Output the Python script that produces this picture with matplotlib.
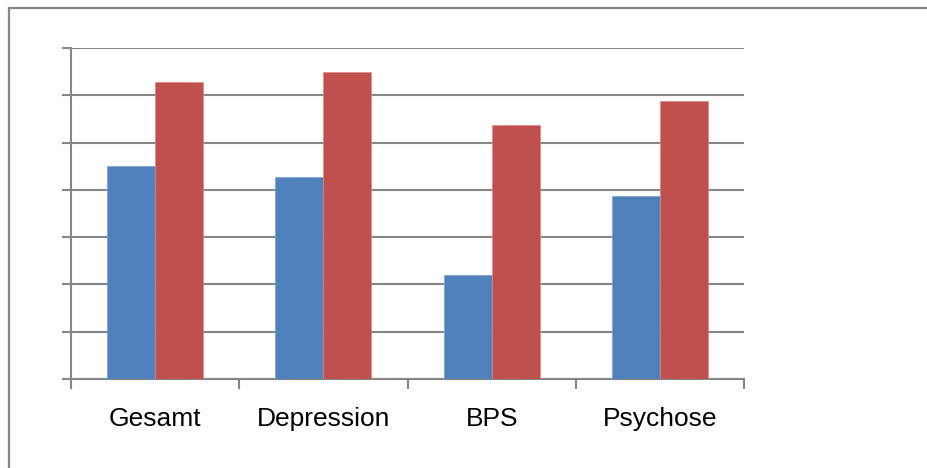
#!/usr/bin/env python3
"""Grouped bar chart: two series over four diagnosis groups, no value labels."""
import matplotlib

matplotlib.use("Agg")
import matplotlib.pyplot as plt
import numpy as np
from matplotlib.lines import Line2D

categories = ["Gesamt", "Depression", "BPS", "Psychose"]
series_a = [4.50, 4.27, 2.20, 3.87]
series_b = [6.28, 6.49, 5.37, 5.88]

BLUE = "#4F81BD"
RED = "#C0504D"
GRAY = "#868686"

fig = plt.figure(figsize=(9.27, 4.68), dpi=100)
ax = fig.add_axes([71 / 927, 1 - 379 / 468, (744 - 71) / 927, (379 - 48) / 468])

# chart frame (only top and left edges fall inside the picture)
fx, fy = 8.5 / 927, 1 - 7.5 / 468
fig.lines.append(Line2D([fx, 1], [fy, fy], transform=fig.transFigure, color=GRAY, linewidth=1.6))
fig.lines.append(Line2D([fx, fx], [0, fy], transform=fig.transFigure, color=GRAY, linewidth=1.6))

x = np.arange(len(categories))
w = 2 / 7  # gap width 150%
ax.bar(x - w / 2, series_a, width=w, color=BLUE, edgecolor="#7A9FCF", linewidth=0.5, zorder=3)
ax.bar(x + w / 2, series_b, width=w, color=RED, edgecolor="#D98A88", linewidth=0.5, zorder=3)

ax.set_xlim(-0.5, len(categories) - 0.5)
ax.set_ylim(0, 7)
ax.set_yticks(np.arange(0, 8))
ax.set_yticklabels([])
ax.yaxis.grid(True, color=GRAY, linewidth=1.5, zorder=0)

ax.set_xticks(np.arange(len(categories) + 1) - 0.5)
ax.set_xticklabels([])
ax.set_xticks(x, minor=True)
ax.set_xticklabels(categories, minor=True, fontsize=19, family="Liberation Sans")
ax.tick_params(axis="x", which="minor", length=0, pad=20.5)
ax.tick_params(axis="x", which="major", length=7, width=1.5, color=GRAY)
ax.tick_params(axis="y", length=6.5, width=1.5, color=GRAY)

for s in ("top", "right"):
    ax.spines[s].set_visible(False)
for s in ("left", "bottom"):
    ax.spines[s].set_color(GRAY)
    ax.spines[s].set_linewidth(1.5)

fig.savefig("out.png", dpi=100)
